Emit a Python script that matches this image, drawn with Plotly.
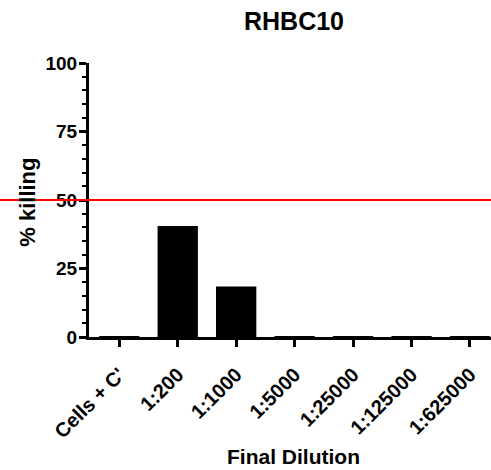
import plotly.graph_objects as go

categories = ["Cells + C'", "1:200", "1:1000", "1:5000", "1:25000", "1:125000", "1:625000"]
killing = [0.3, 40.5, 18.4, 0.3, 0.3, 0.3, 0.3]
threshold = 50
y_ticks = [0, 25, 50, 75, 100]

FONT = "Liberation Sans, Arial, sans-serif"
L, T, W, H = 89, 63, 402, 274.5
FW, FH = 491, 470

fig = go.Figure()
fig.add_trace(go.Bar(
    x=list(range(len(categories))), y=killing,
    marker=dict(color="black", line=dict(width=0)),
    width=0.69,
))

fig.add_shape(type="line", xref="paper", yref="y",
              x0=-L / W, x1=1, y0=threshold, y1=threshold,
              line=dict(color="#ff0000", width=2), layer="above")

fig.update_layout(
    width=FW, height=FH,
    margin=dict(l=L, r=FW - L - W, t=T, b=FH - T - H, pad=0),
    plot_bgcolor="white", paper_bgcolor="white",
    showlegend=False,
    font=dict(family=FONT, color="black"),
    title=dict(text="<b>RHBC10</b>", x=(L + W / 2 + 4) / FW, xanchor="center",
               y=1 - 21 / FH, yanchor="middle", yref="container",
               font=dict(size=25, family=FONT, color="black")),
    xaxis=dict(
        range=[-0.518, 6.36],
        tickmode="array", tickvals=list(range(len(categories))), ticktext=categories,
        tickangle=-45,
        tickfont=dict(size=20, family=FONT, color="black", weight="bold"),
        ticks="outside", ticklen=7, tickwidth=3, tickcolor="black",
        ticklabelstandoff=8,
        showline=True, linewidth=3, linecolor="black",
        showgrid=False, zeroline=False,
    ),
    yaxis=dict(
        range=[0, 100],
        tickmode="array", tickvals=y_ticks,
        tickfont=dict(size=19, family=FONT, color="black", weight="bold"),
        ticks="outside", ticklen=7, tickwidth=3, tickcolor="black",
        ticklabelstandoff=-2,
        minor=dict(dtick=5, ticks="outside", ticklen=4, tickwidth=2, tickcolor="black"),
        showline=True, linewidth=3, linecolor="black",
        showgrid=False, zeroline=False,
    ),
)

fig.add_annotation(text="<b>% killing</b>", xref="paper", yref="paper",
                   x=(28 - L) / W, y=0.49, xanchor="center", yanchor="middle",
                   textangle=-90, showarrow=False,
                   font=dict(size=22, family=FONT, color="black"))
fig.add_annotation(text="<b>Final Dilution</b>", xref="paper", yref="paper",
                   x=(293 - L) / W, y=-(457 - (T + H)) / H, xanchor="center", yanchor="middle",
                   showarrow=False,
                   font=dict(size=21, family=FONT, color="black"))

fig.write_html("out.html")
